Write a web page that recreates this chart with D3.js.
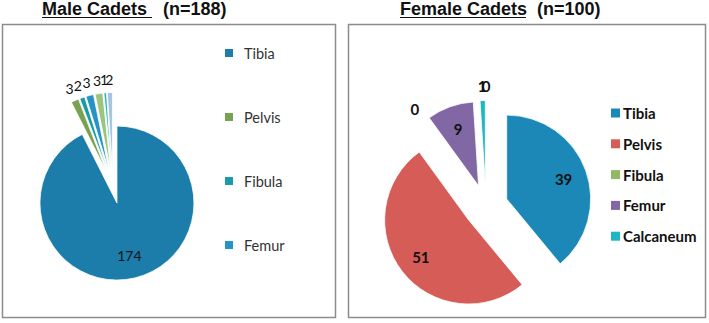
<!DOCTYPE html>
<html>
<head>
<meta charset="utf-8">
<script src="https://cdn.jsdelivr.net/npm/d3@7"></script>
<style>
  body { margin: 0; background: #fff; }
  svg { display: block; }
</style>
</head>
<body>
<div id="wrapper"></div>
<script>
// male cadets (n=188)
const maleCategories = ["Tibia", "Pelvis", "Fibula", "Femur", "Other 1", "Other 2", "Other 3"];
const maleValues = [174, 3, 2, 3, 3, 1, 2];
const maleLegend = ["Tibia", "Pelvis", "Fibula", "Femur"];
const maleColors = ["#1c7dab", "#78a152", "#1b9aa8", "#2792c6", "#9cc47c", "#2cb3c2", "#a5c3dd"];

// female cadets (n=100) - last zero slice has no legend entry
const femaleCategories = ["Tibia", "Pelvis", "Fibula", "Femur", "Calcaneum", "Other"];
const femaleValues = [39, 51, 0, 9, 1, 0];
const femaleLegend = ["Tibia", "Pelvis", "Fibula", "Femur", "Calcaneum"];
const femaleColors = ["#1c88b8", "#d65c57", "#90b964", "#8167a3", "#1eb6c2", "#f59d56"];

function drawPie(svg, opts) {
	const pie = d3.pie().sort(null).value(d => d.value);
	const arcs = pie(opts.categories.map((c, i) => ({name: c, value: opts.values[i]})));
	const arc = d3.arc().innerRadius(0).outerRadius(opts.r);

	const g = svg.append("g").attr("transform", `translate(${opts.cx},${opts.cy})`);

	const dir = d => {
		const a = (d.startAngle + d.endAngle) / 2;
		return [Math.sin(a), -Math.cos(a)];
	};

	const slices = g.selectAll("g.slice")
		.data(arcs)
		.join("g")
		.attr("class", "slice")
		.attr("transform", d => {
			const [dx, dy] = dir(d);
			return `translate(${dx * opts.explode},${dy * opts.explode})`;
		});

	slices.filter(d => d.value > 0)
		.append("path")
		.attr("d", arc)
		.attr("fill", d => opts.colors[d.index])
		.attr("stroke", "#fff")
		.attr("stroke-width", 0.8);

	const dist = d => opts.inside(d) ? opts.r * opts.inR : opts.r + opts.outR;

	slices.append("text")
		.attr("x", d => dir(d)[0] * dist(d))
		.attr("y", d => dir(d)[1] * dist(d))
		.attr("text-anchor", "middle")
		.attr("dominant-baseline", "central")
		.attr("font-family", "Lato, 'Open Sans', sans-serif")
		.attr("font-size", opts.labelSize)
		.attr("font-weight", opts.labelWeight)
		.attr("fill", "#111")
		.text(d => d.value);
}

function drawTitle(svg, x, main, n, underlineEnd) {
	const t = svg.append("text")
		.attr("x", x)
		.attr("y", 14.5)
		.attr("font-family", "'Liberation Sans', Arial, sans-serif")
		.attr("font-size", 18)
		.attr("font-weight", "bold")
		.attr("fill", "#111");
	t.append("tspan").text(main);
	t.append("tspan").attr("x", underlineEnd + 11).text(n);
	svg.append("line")
		.attr("x1", x).attr("x2", underlineEnd)
		.attr("y1", 17.5).attr("y2", 17.5)
		.attr("stroke", "#111").attr("stroke-width", 1.2);
}

function drawLegend(svg, items, colors, x, y0, step, opts) {
	const lg = svg.append("g");
	const row = lg.selectAll("g").data(items).join("g")
		.attr("transform", (d, i) => `translate(${x},${y0 + i * step})`);
	row.append("rect")
		.attr("x", 0).attr("y", -opts.box / 2)
		.attr("width", opts.box).attr("height", opts.box)
		.attr("fill", (d, i) => colors[i]);
	row.append("text")
		.attr("x", opts.gap)
		.attr("dominant-baseline", "central")
		.attr("font-family", "Lato, 'Open Sans', sans-serif")
		.attr("font-size", opts.size)
		.attr("font-weight", opts.weight)
		.attr("fill", opts.color)
		.text(d => d);
}

const svg = d3.select("#wrapper").append("svg")
	.attr("width", 709)
	.attr("height", 323);

// panels
svg.append("rect").attr("x", 2.5).attr("y", 24.5).attr("width", 333).attr("height", 293)
	.attr("fill", "#fff").attr("stroke", "#8c8c8c").attr("stroke-width", 1.5);
svg.append("rect").attr("x", 348.5).attr("y", 24.5).attr("width", 357).attr("height", 293)
	.attr("fill", "#fff").attr("stroke", "#8c8c8c").attr("stroke-width", 1.5);

drawTitle(svg, 42, "Male Cadets", "(n=188)", 152);
drawTitle(svg, 400, "Female Cadets", "(n=100)", 526);

drawPie(svg, {
	categories: maleCategories, values: maleValues, colors: maleColors,
	cx: 113, cy: 186.5, r: 77, explode: 17,
	inside: d => d.value > 20, inR: 0.7, outR: 13,
	labelSize: 14, labelWeight: "normal"
});

drawPie(svg, {
	categories: femaleCategories, values: femaleValues, colors: femaleColors,
	cx: 486, cy: 206.5, r: 84, explode: 22,
	inside: d => d.value > 5, inR: 0.72, outR: 15,
	labelSize: 15, labelWeight: "bold"
});

drawLegend(svg, maleLegend, maleColors, 225, 53, 64,
	{box: 8, gap: 19, size: 14.5, weight: "normal", color: "#333"});
drawLegend(svg, femaleLegend, femaleColors, 611, 113, 30.8,
	{box: 9, gap: 12, size: 15, weight: "bold", color: "#111"});
</script>
</body>
</html>
